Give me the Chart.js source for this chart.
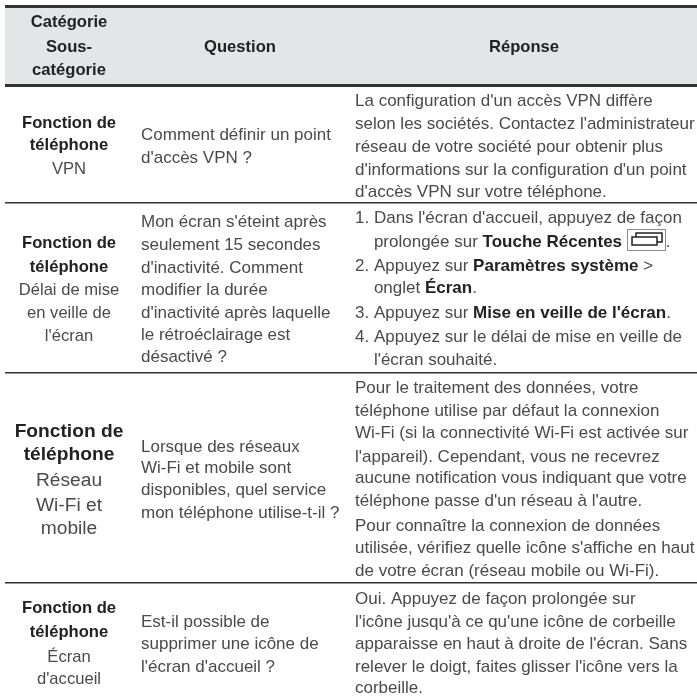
<!DOCTYPE html>
<html>
<head>
<meta charset="utf-8">
<style>
  html, body { margin: 0; padding: 0; background: #fff; }
  #wrap { width: 697px; height: 699px; }
</style>
</head>
<body>
<div id="wrap"><canvas id="myChart"></canvas></div>
<script src="https://cdn.jsdelivr.net/npm/chart.js@4"></script>
<script>
/** Table content. **x** marks bold text, [icon] the recent-apps key */
const headers = [["Catégorie", "Sous-", "catégorie"], ["Question"], ["Réponse"]];
const categories = [
  ["Fonction de", "téléphone"],
  ["Fonction de", "téléphone"],
  ["Fonction de", "téléphone"],
  ["Fonction de", "téléphone"]
];
const subCategories = [
  ["VPN"],
  ["Délai de mise", "en veille de", "l'écran"],
  ["Réseau", "Wi-Fi et", "mobile"],
  ["Écran", "d'accueil"]
];
const questions = [
  ["Comment définir un point", "d'accès VPN ?"],
  ["Mon écran s'éteint après", "seulement 15 secondes", "d'inactivité. Comment", "modifier la durée", "d'inactivité après laquelle", "le rétroéclairage est", "désactivé ?"],
  ["Lorsque des réseaux", "Wi-Fi et mobile sont", "disponibles, quel service", "mon téléphone utilise-t-il ?"],
  ["Est-il possible de", "supprimer une icône de", "l'écran d'accueil ?"]
];
const answers = [
  ["La configuration d'un accès VPN diffère", "selon les sociétés. Contactez l'administrateur", "réseau de votre société pour obtenir plus", "d'informations sur la configuration d'un point", "d'accès VPN sur votre téléphone."],
  ["1. Dans l'écran d'accueil, appuyez de façon", "    prolongée sur **Touche Récentes** [icon].", "2. Appuyez sur **Paramètres système** >", "    onglet **Écran**.", "3. Appuyez sur **Mise en veille de l'écran**.", "4. Appuyez sur le délai de mise en veille de", "    l'écran souhaité."],
  ["Pour le traitement des données, votre", "téléphone utilise par défaut la connexion", "Wi-Fi (si la connectivité Wi-Fi est activée sur", "l'appareil). Cependant, vous ne recevrez", "aucune notification vous indiquant que votre", "téléphone passe d'un réseau à l'autre.", "Pour connaître la connexion de données", "utilisée, vérifiez quelle icône s'affiche en haut", "de votre écran (réseau mobile ou Wi-Fi)."],
  ["Oui. Appuyez de façon prolongée sur", "l'icône jusqu'à ce qu'une icône de corbeille", "apparaisse en haut à droite de l'écran. Sans", "relever le doigt, faites glisser l'icône vers la", "corbeille."]
];

/** Layout */
const ruleY = [6, 84, 203, 373, 583];
const colX = { cat: 69, question: 141, answer: 355, headQuestion: 240, headAnswer: 524 };
const headBase = [[27, 52, 75], [52], [52]];
const catBase = [[128, 150, 174], [248, 272, 295, 318, 341], [437, 460, 486, 511, 534], [613, 637, 662, 684]];
const questionBase = [[140, 163], [227, 250, 273, 295, 318, 340, 362], [452, 473, 495, 518], [627, 649, 672]];
const answerBase = [[106, 129, 152, 175, 197], [223, 247, 271, 293, 318, 342, 365], [393, 416, 438, 462, 483, 506, 531, 553, 576], [604, 627, 649, 672, 693]];

const FONT = "'Liberation Sans'";
const TEXT = "#4a4a4a", BOLD = "#222222", SIZE = 17, BOLD_SIZE = 16.6;

function drawRich(ctx, str, x, y) {
  // splits the line in plain / bold pieces and draws them one after the other
  let parts = str.split("**");
  let cx = x;
  parts.forEach(function(p, i) {
    let bold = i % 2 == 1;
    ctx.font = (bold ? "bold " : "") + SIZE + "px " + FONT;
    ctx.fillStyle = bold ? BOLD : TEXT;
    let bits = p.split("[icon]");
    bits.forEach(function(b, j) {
      if (j > 0) { drawIcon(ctx, cx, y); cx += 39; }
      ctx.fillText(b, cx, y);
      cx += ctx.measureText(b).width;
    });
  });
}

function drawIcon(ctx, x, y) {
  x = Math.round(x);
  ctx.save();
  ctx.strokeStyle = "#8a8a8a"; ctx.lineWidth = 1;
  ctx.strokeRect(x + 0.5, y - 17.5, 38, 21);
  ctx.strokeStyle = "#222"; ctx.lineWidth = 1.5;
  ctx.strokeRect(x + 5, y - 10, 25, 8);
  ctx.beginPath();
  ctx.moveTo(x + 9, y - 10); ctx.lineTo(x + 9, y - 14); ctx.lineTo(x + 35, y - 14); ctx.lineTo(x + 35, y - 5); ctx.lineTo(x + 30, y - 5);
  ctx.stroke();
  ctx.restore();
}

const tablePlugin = {
  id: "table",
  beforeDatasetsDraw(chart) {
    const c = chart.ctx, X = chart.scales.x, Y = chart.scales.y;
    // grey header band
    c.fillStyle = "#e4e5e7";
    c.fillRect(X.left, Y.getPixelForValue(ruleY[0]), X.right - X.left, Y.getPixelForValue(ruleY[1]) - Y.getPixelForValue(ruleY[0]));
    // the band paints over the grid, so redo the two heavy rules
    c.fillStyle = "#333333";
    c.fillRect(X.left, Y.getPixelForValue(ruleY[0]), X.right - X.left, 2);
    c.fillRect(X.left, Y.getPixelForValue(ruleY[1]), X.right - X.left, 3);
  },
  afterDatasetsDraw(chart) {
    const c = chart.ctx, X = chart.scales.x, Y = chart.scales.y;
    c.save();
    c.textBaseline = "alphabetic";

    // header row
    c.textAlign = "center";
    c.fillStyle = "#222";
    c.font = "bold " + BOLD_SIZE + "px " + FONT;
    [colX.cat, colX.headQuestion, colX.headAnswer].forEach(function(px, i) {
      headers[i].forEach(function(t, k) {
        c.fillText(t, X.getPixelForValue(px), Y.getPixelForValue(headBase[i][k]));
      });
    });

    categories.forEach(function(cat, r) {
      // category + sub category, centered. Third row is set bigger in the original
      let big = r == 2;
      cat.concat(subCategories[r]).forEach(function(t, k) {
        let isCat = k < cat.length;
        let size = big ? 19.2 : BOLD_SIZE;
        c.font = (isCat ? "bold " : "") + size + "px " + FONT;
        c.fillStyle = isCat ? BOLD : TEXT;
        c.textAlign = "center";
        c.fillText(t, X.getPixelForValue(colX.cat), Y.getPixelForValue(catBase[r][k]));
      });
      c.textAlign = "left";
      c.font = SIZE + "px " + FONT;
      c.fillStyle = TEXT;
      questions[r].forEach(function(t, k) {
        c.fillText(t, X.getPixelForValue(colX.question), Y.getPixelForValue(questionBase[r][k]));
      });
      answers[r].forEach(function(t, k) {
        drawRich(c, t, X.getPixelForValue(colX.answer), Y.getPixelForValue(answerBase[r][k]));
      });
    });
    c.restore();
  }
};

new Chart(document.getElementById("myChart"), {
  type: "scatter",
  data: { datasets: [] },
  plugins: [tablePlugin],
  options: {
    responsive: true,
    maintainAspectRatio: false,
    animation: false,
    layout: { padding: { left: 5, right: 0, top: 0, bottom: 0 } },
    plugins: { legend: { display: false }, tooltip: { enabled: false } },
    scales: {
      x: { type: "linear", min: 5, max: 697, display: false },
      y: {
        type: "linear", min: 0, max: 699, reverse: true,
        afterBuildTicks(axis) { axis.ticks = ruleY.map(function(v) { return { value: v }; }); },
        border: { display: false },
        ticks: { display: false },
        grid: {
          drawTicks: false,
          color: "#333333",
          lineWidth: 1.5
        }
      }
    }
  }
});
</script>
</body>
</html>
